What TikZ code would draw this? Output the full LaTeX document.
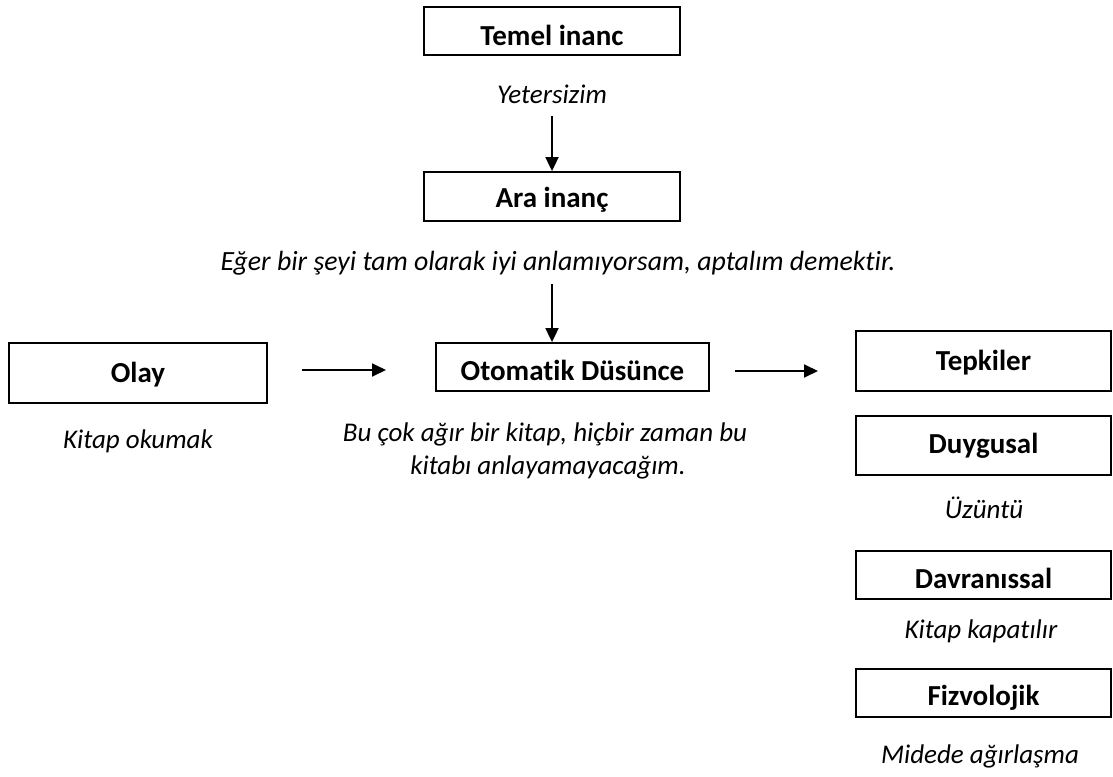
\documentclass[tikz,border=0pt]{standalone}
\usepackage{fontspec}
\setmainfont{Carlito}[Ligatures=NoCommon]
\usetikzlibrary{arrows.meta}
\tikzset{
  box/.style={draw, line width=1.8pt, inner sep=0pt, text depth=0pt,
    font=\fontsize{29}{34}\selectfont\bfseries},
  note/.style={anchor=base, inner sep=0pt, font=\fontsize{27}{33}\selectfont\itshape},
  arr/.style={line width=1.8pt, -{Triangle[length=14pt,width=13pt]}}
}
\begin{document}
\begin{tikzpicture}[x=1pt,y=-1pt]
\useasboundingbox (0,0) rectangle (1113,776);
% boxes
\node[box, minimum width=256pt, minimum height=48pt, text height=30pt] (temel) at (552,31) {Temel inanc};
\node[box, minimum width=256pt, minimum height=49pt, text height=21pt] (ara) at (552,196.5) {Ara inanç};
\node[box, minimum width=258pt, minimum height=60pt, text height=18pt] (olay) at (138,373) {Olay};
\node[box, minimum width=273pt, minimum height=48pt, text height=26pt] (oto) at (572.5,367) {Otomatik Düsünce};
\node[box, minimum width=255pt, minimum height=60pt, text height=18pt] (tep) at (983.5,361) {Tepkiler};
\node[box, minimum width=255pt, minimum height=59pt, text height=15pt] (duy) at (983.5,445.5) {Duygusal};
\node[box, minimum width=255pt, minimum height=48pt, text height=26pt] (dav) at (983.5,575) {Davranıssal};
\node[box, minimum width=255pt, minimum height=48pt, text height=24pt] (fiz) at (983.5,693) {Fizvolojik};
% notes
\node[note] (yet) at (552,103) {Yetersizim};
\node[note, font=\fontsize{27.8}{33}\selectfont\itshape] (eger) at (558,270) {Eğer bir şeyi tam olarak iyi anlamıyorsam, aptalım demektir.};
\node[note] (kitap) at (138,448) {Kitap okumak};
\node[note] (bu1) at (545,441) {Bu çok ağır bir kitap, hiçbir zaman bu};
\node[note] (bu2) at (548,474) {kitabı anlayamayacağım.};
\node[note] (uzu) at (984,518) {Üzüntü};
\node[note] (kk) at (981,638) {Kitap kapatılır};
\node[note] (mid) at (980,763) {Midede ağırlaşma};
% arrow tails / heads
\coordinate (a0s) at (552,116);
\coordinate (a2s) at (552,284);
\coordinate (a1s) at (302,370);
\coordinate (a1e) at (386,370);
\coordinate (a3s) at (735,371);
\coordinate (a3e) at (818,371);
\draw[arr] (a0s) -- (a0s |- ara.north);
\draw[arr] (a2s) -- (a2s |- oto.north);
\draw[arr] (a1s) -- (a1e);
\draw[arr] (a3s) -- (a3e);
\end{tikzpicture}
\end{document}
